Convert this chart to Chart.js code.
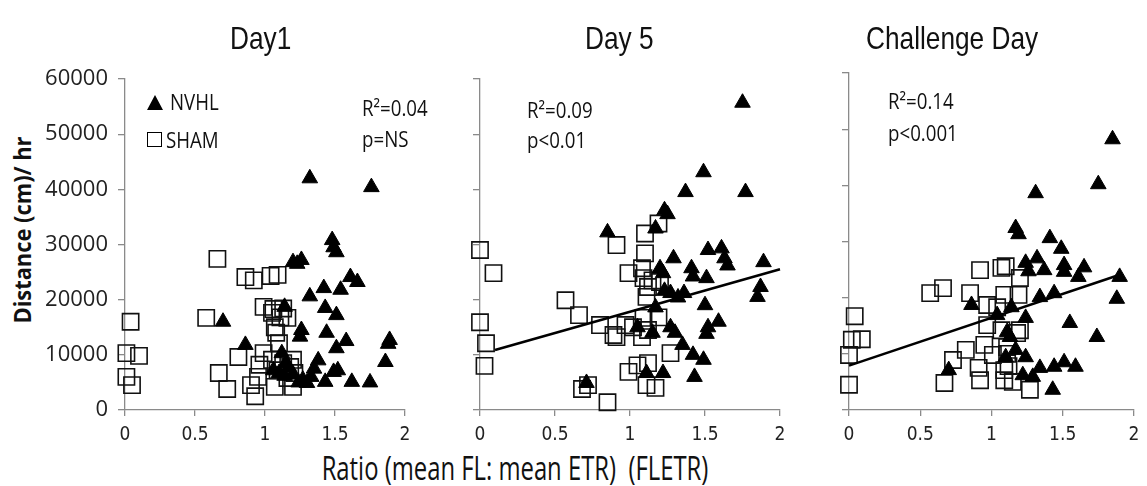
<!DOCTYPE html>
<html>
<head>
<meta charset="utf-8">
<script src="https://cdn.jsdelivr.net/npm/chart.js@4.4.1/dist/chart.umd.min.js"></script>
<style>
  body { margin: 0; background: #fff; }
  #wrap { position: relative; width: 1147px; height: 486px; overflow: hidden; background: #fff; }
  canvas { position: absolute; top: 0; }
  .txt { position: absolute; white-space: nowrap; line-height: 1; color: #111; }
  .title { font-family: 'Liberation Sans', Arial, sans-serif; font-size: 32px; top: 22px; transform: scaleX(0.82); transform-origin: left top; }
  .note { font-family: 'Open Sans', sans-serif; font-size: 22px; transform: scaleX(0.85); transform-origin: left top; }
  .tri { position: absolute; width: 0; height: 0; border-left: 8px solid transparent; border-right: 8px solid transparent; border-bottom: 15px solid #000; }
  .sq { position: absolute; width: 13px; height: 13px; border: 1.6px solid #000; }
</style>
</head>
<body>
<div id="wrap">
  <canvas id="c1" width="380" height="440" style="left:40px"></canvas>
  <canvas id="c2" width="380" height="440" style="left:420px"></canvas>
  <canvas id="c3" width="347" height="440" style="left:800px"></canvas>

  <div class="txt title" style="left:230px">Day1</div>
  <div class="txt title" style="left:585px">Day 5</div>
  <div class="txt title" style="left:866px">Challenge Day</div>

  <div class="txt" style="left:22px; top:230px; font-family:'Open Sans',sans-serif; font-weight:bold; font-size:23px; transform:translate(-50%,-50%) rotate(-90deg) scaleX(0.95);">Distance (cm)/ hr</div>
  <div class="txt" style="left:515px; top:452px; font-family:'Open Sans',sans-serif; font-size:32px; transform:translateX(-50%) scaleX(0.745);">Ratio (mean FL: mean ETR)&nbsp;&nbsp;(FLETR)</div>

  <!-- panel 1 legend + stats -->
  <div class="tri" style="left:147px; top:95px"></div>
  <div class="txt note" style="left:170px; top:90px">NVHL</div>
  <div class="sq" style="left:147px; top:132px"></div>
  <div class="txt note" style="left:166px; top:128px">SHAM</div>
  <div class="txt note" style="left:362px; top:96px">R²=0.04</div>
  <div class="txt note" style="left:362px; top:127px">p=NS</div>

  <div class="txt note" style="left:527px; top:98px">R²=0.09</div>
  <div class="txt note" style="left:527px; top:128px">p&lt;0.01</div>

  <div class="txt note" style="left:888px; top:89px">R²=0.14</div>
  <div class="txt note" style="left:888px; top:121px">p&lt;0.001</div>
</div>

<script>
// tick labels
const xTickLabels = ['0', '0.5', '1', '1.5', '2']
const yTickLabels = ['0', '10000', '20000', '30000', '40000', '50000', '60000']

// Day 1  [ratio, distance]
const day1Sham = [
  [0.04, 16000], [0.01, 10300], [0.1, 9800], [0.01, 6000], [0.05, 4500],
  [0.66, 27400], [0.58, 16700], [0.86, 24100], [0.92, 23500], [1.04, 24300], [1.09, 24500],
  [0.99, 18700], [1.06, 18300], [1.13, 18400], [1.11, 16800], [1.07, 15000], [1.08, 14000], [1.1, 12100],
  [0.81, 9600], [0.67, 6700], [0.73, 3800], [0.9, 4500], [0.93, 2500],
  [0.99, 10300], [0.96, 8200], [0.95, 6000], [1.07, 4200], [1.05, 17600], [1.16, 16700],
  [1.05, 9100], [1.09, 7200], [1.2, 9100], [1.21, 6700], [1.2, 4200], [1.16, 5800], [1.13, 8500], [1.18, 7800]
]
const day1Nvhl = [
  [1.32, 42000], [1.76, 40400], [0.7, 16000], [0.86, 11800], [1.14, 18700], [1.2, 26800], [1.26, 27200], [1.23, 26500],
  [1.48, 30800], [1.49, 29500], [1.51, 28600], [1.61, 24100], [1.66, 23200], [1.32, 20600], [1.42, 22100], [1.54, 21800],
  [1.43, 18500], [1.51, 17200], [1.26, 14500], [1.25, 13300], [1.44, 14000], [1.58, 12500], [1.51, 11200],
  [1.89, 12700], [1.88, 12000], [1.86, 8700], [1.38, 9000], [1.49, 6900], [1.52, 7200], [1.35, 7500],
  [1.43, 5100], [1.62, 5100], [1.75, 5000], [1.3, 4900], [1.24, 5000], [1.12, 10300], [1.1, 6700], [1.15, 8500],
  [1.17, 7700], [1.06, 7200], [1.14, 6200], [1.2, 6500], [1.33, 6000], [1.27, 5500]
]

// Day 5
const day5Sham = [
  [0, 29000], [0.09, 24800], [0, 15900], [0.04, 12100], [0.03, 8000], [0.57, 19900], [0.66, 17200], [0.8, 15400],
  [0.91, 29900], [0.99, 24800], [1.1, 28400], [1.1, 32000], [1.19, 33800], [1.08, 25700], [1.09, 23900], [1.12, 22300],
  [1.11, 20500], [1.15, 23500], [1.2, 23200], [1.19, 16800], [1.09, 16700], [1.02, 15000], [0.97, 15400], [0.91, 13200],
  [0.89, 13600], [1.08, 13200], [1.12, 14500], [1.27, 10300], [0.99, 6900], [1.05, 8100], [1.12, 8500], [1.11, 4500],
  [1.17, 4000], [0.68, 3800], [0.72, 4500], [0.85, 1400]
]
const day5Nvhl = [
  [1.75, 55700], [1.49, 43100], [1.37, 39500], [1.77, 39500], [1.23, 36200], [1.25, 35500], [1.17, 32900], [0.85, 32200],
  [1.29, 27500], [1.2, 25700], [1.22, 24800], [1.52, 29000], [1.61, 29300], [1.63, 27500], [1.65, 26200], [1.41, 25700],
  [1.42, 24200], [1.51, 23900], [1.36, 21200], [1.32, 20400], [1.27, 21200], [1.23, 21600], [1.17, 18600], [1.5, 19000],
  [1.89, 26800], [1.87, 22300], [1.85, 20500], [1.27, 15000], [1.3, 14000], [1.35, 11800], [1.52, 15000], [1.59, 16000],
  [1.51, 13800], [1.42, 10000], [1.49, 9100], [1.43, 6000], [1.22, 6700], [1.11, 6700], [1.05, 15000], [1.15, 14000], [0.71, 4900]
]
const day5Fit = [[0.1, 10870], [2.0, 25500]]

// Challenge day
const challengeSham = [
  [0.04, 16700], [0.02, 12500], [0.09, 12600], [0, 9800], [0, 4500], [0.57, 20800], [0.66, 21700], [0.92, 24900],
  [1.07, 25300], [1.1, 25600], [0.85, 20800], [0.97, 18700], [1.04, 18300], [1.09, 20500], [1.19, 20500], [1.2, 23500],
  [0.97, 15100], [1.07, 14200], [1.2, 14200], [0.95, 11600], [1.01, 9800], [1.11, 11200], [0.82, 10700], [0.73, 8900],
  [0.91, 7500], [0.92, 5300], [0.67, 4800], [1.09, 7100], [1.12, 7800], [1.09, 5300], [1.15, 5000], [1.27, 3600],
  [1.11, 10000], [1.18, 13700]
]
const challengeNvhl = [
  [1.85, 48200], [1.75, 40200], [1.31, 38600], [1.17, 32400], [1.19, 31300], [1.41, 30600], [1.49, 28700], [1.32, 27000],
  [1.24, 26200], [1.26, 24700], [1.37, 24900], [1.51, 25800], [1.51, 24600], [1.65, 25400], [1.61, 23700], [1.9, 23700],
  [1.88, 19800], [1.34, 20100], [1.44, 20800], [0.86, 18700], [1.04, 16900], [1.14, 18300], [1.24, 16400], [1.55, 15500],
  [1.74, 13000], [1.11, 13900], [1.13, 13000], [1.17, 10700], [1.24, 9400], [0.7, 7100], [1.34, 7500], [1.44, 7700],
  [1.51, 8500], [1.59, 7700], [1.22, 6200], [1.29, 5900], [1.43, 3600], [1.1, 9400]
]
const challengeFit = [[0, 7900], [1.88, 23900]]

const toPts = arr => arr.map(p => ({x: p[0], y: p[1]}))
const axisGrey = '#8a8a8a'

// build one panel
function makePanel(id, opts) {
  const datasets = [
    {
      label: 'NVHL', data: toPts(opts.nvhl), pointStyle: 'triangle', pointRadius: 9,
      backgroundColor: '#000', borderColor: '#000', borderWidth: 1, clip: false, order: 2
    },
    {
      label: 'SHAM', data: toPts(opts.sham), pointStyle: 'rect', pointRadius: 11.5,
      backgroundColor: 'rgba(0,0,0,0)', borderColor: '#111', borderWidth: 1.6, clip: false, order: 3
    }
  ]
  if (opts.fit) {
    datasets.push({
      label: 'fit', data: toPts(opts.fit), showLine: true, pointRadius: 0,
      borderColor: '#000', borderWidth: 2.6, clip: false, order: 1
    })
  }
  return new Chart(document.getElementById(id), {
    type: 'scatter',
    data: {datasets},
    options: {
      responsive: false,
      animation: false,
      devicePixelRatio: 1,
      layout: {padding: {top: opts.top, right: opts.right, bottom: 0, left: 0}},
      plugins: {legend: {display: false}, tooltip: {enabled: false}},
      scales: {
        x: {
          type: 'linear', min: 0, max: 2,
          border: {display: true, color: axisGrey, width: 1.3},
          grid: {display: true, drawOnChartArea: false, drawTicks: true, tickLength: 6, color: axisGrey, lineWidth: 1.3},
          ticks: {
            stepSize: 0.5, padding: 8, color: '#222', maxRotation: 0, autoSkip: false,
            font: {family: "'Liberation Sans Narrow', 'DejaVu Sans Condensed', 'Open Sans', sans-serif", size: 19},
            callback: (v, i) => xTickLabels[i]
          },
          afterFit: s => { s.height = 30; s.paddingLeft = 0; s.paddingRight = 0 }
        },
        y: {
          type: 'linear', min: 0, max: 60000,
          border: {display: true, color: axisGrey, width: 1.3},
          grid: {display: true, drawOnChartArea: false, drawTicks: true, tickLength: 7, color: axisGrey, lineWidth: 1.3},
          ticks: {
            stepSize: 10000, padding: 10, color: '#222', display: opts.yLabels,
            font: {family: "'Open Sans', sans-serif", size: 22},
            callback: (v, i) => yTickLabels[i]
          },
          afterFit: s => { s.width = opts.yWidth; s.paddingTop = 0; s.paddingBottom = 0 }
        }
      }
    }
  })
}

makePanel('c1', {nvhl: day1Nvhl, sham: day1Sham, top: 79, right: 15, yWidth: 85, yLabels: true})
makePanel('c2', {nvhl: day5Nvhl, sham: day5Sham, fit: day5Fit, top: 79, right: 20, yWidth: 60, yLabels: false})
makePanel('c3', {nvhl: challengeNvhl, sham: challengeSham, fit: challengeFit, top: 73, right: 2, yWidth: 49, yLabels: false})
</script>
</body>
</html>
